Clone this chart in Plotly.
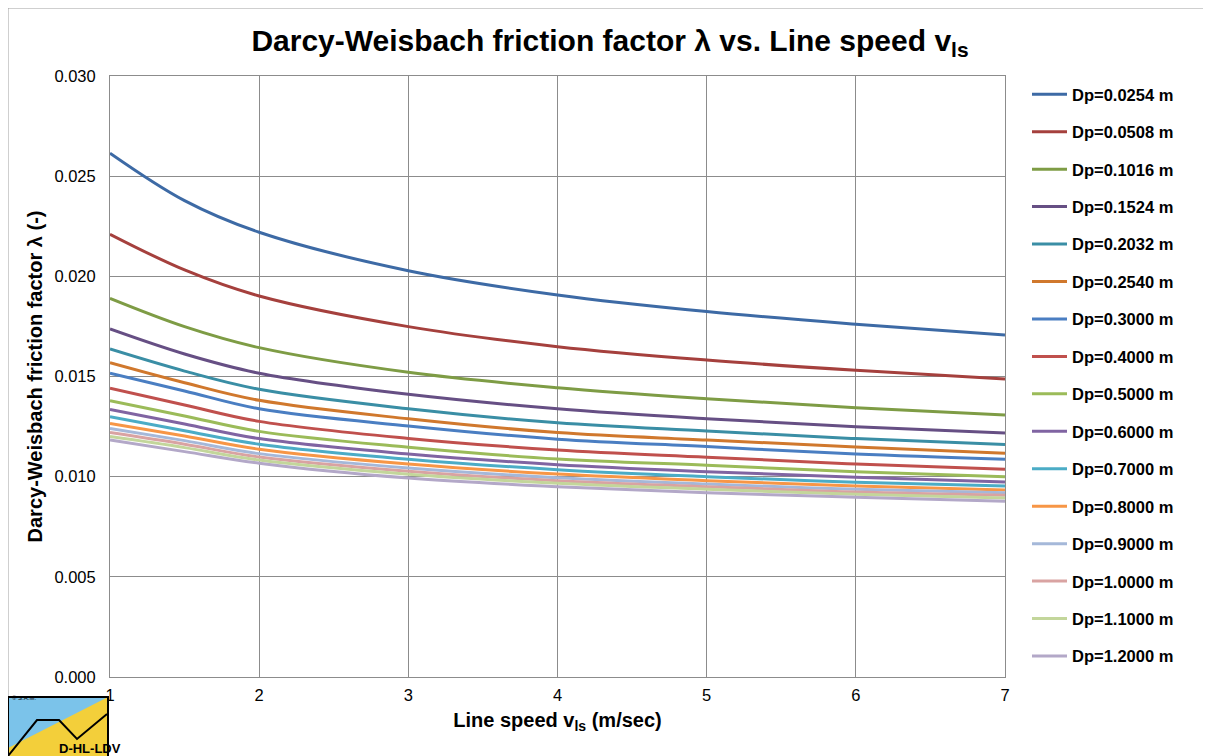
import plotly.graph_objects as go

# line speed v_ls (m/sec)
speed = [1, 1.5, 2, 3, 4, 5, 6, 7]

# pipe diameters (m) -> legend labels
diameters = ["0.0254", "0.0508", "0.1016", "0.1524", "0.2032", "0.2540", "0.3000", "0.4000",
             "0.5000", "0.6000", "0.7000", "0.8000", "0.9000", "1.0000", "1.1000", "1.2000"]

# friction factor lambda per diameter
lam_0254 = [0.02615, 0.02378, 0.02220, 0.02028, 0.01907, 0.01824, 0.01761, 0.01707]
lam_0508 = [0.02210, 0.02032, 0.01902, 0.01749, 0.01649, 0.01582, 0.01531, 0.01488]
lam_1016 = [0.01890, 0.01749, 0.01644, 0.01521, 0.01444, 0.01389, 0.01344, 0.01308]
lam_1524 = [0.01737, 0.01612, 0.01516, 0.01411, 0.01339, 0.01289, 0.01249, 0.01218]
lam_2032 = [0.01637, 0.01527, 0.01436, 0.01339, 0.01269, 0.01228, 0.01190, 0.01160]
lam_2540 = [0.01569, 0.01469, 0.01381, 0.01289, 0.01220, 0.01183, 0.01148, 0.01117]
lam_3000 = [0.01516, 0.01428, 0.01339, 0.01253, 0.01187, 0.01150, 0.01113, 0.01087]
lam_4000 = [0.01441, 0.01358, 0.01276, 0.01191, 0.01133, 0.01097, 0.01063, 0.01037]
lam_5000 = [0.01379, 0.01303, 0.01226, 0.01147, 0.01088, 0.01057, 0.01025, 0.01000]
lam_6000 = [0.01336, 0.01263, 0.01190, 0.01113, 0.01060, 0.01025, 0.00997, 0.00973]
lam_7000 = [0.01299, 0.01229, 0.01162, 0.01087, 0.01035, 0.01000, 0.00972, 0.00953]
lam_8000 = [0.01266, 0.01203, 0.01137, 0.01063, 0.01013, 0.00980, 0.00953, 0.00933]
lam_9000 = [0.01241, 0.01180, 0.01115, 0.01043, 0.00995, 0.00963, 0.00937, 0.00920]
lam_10000 = [0.01220, 0.01162, 0.01098, 0.01027, 0.00980, 0.00950, 0.00923, 0.00907]
lam_11000 = [0.01200, 0.01145, 0.01083, 0.01012, 0.00967, 0.00937, 0.00912, 0.00894]
lam_12000 = [0.01183, 0.01125, 0.01067, 0.00993, 0.00950, 0.00920, 0.00897, 0.00877]

series = [lam_0254, lam_0508, lam_1016, lam_1524, lam_2032, lam_2540, lam_3000, lam_4000,
          lam_5000, lam_6000, lam_7000, lam_8000, lam_9000, lam_10000, lam_11000, lam_12000]

colors = ["#3D6AA5", "#A5403D", "#7E9C45", "#664F84", "#3A8EA5", "#D0782D",
          "#4A7EC2", "#C0504D", "#9BBB59", "#8064A2", "#4BACC6", "#F79646",
          "#A5B8D9", "#D9A3A2", "#C3D69B", "#B3A8C8"]

FONT = "Arial, Liberation Sans, sans-serif"
OFF = 8  # page body margin
W, H = 1211 - OFF, 756 - OFF
# plot area in page pixels: x 110..1005, y 76..677
ML, MR, MT, MB = 110 - OFF, 1211 - 1005, 76 - OFF, 756 - 677
PW, PH = W - ML - MR, H - MT - MB


def px(x, y):
    # page pixel position -> paper coords
    return (x - OFF - ML) / PW, (H - MB - (y - OFF)) / PH


fig = go.Figure()

for d, vals, c in zip(diameters, series, colors):
    fig.add_trace(
        go.Scatter(
            x=speed,
            y=vals,
            mode="lines",
            line=dict(color=c, width=3, shape="spline", smoothing=1.0),
            name=f"Dp={d} m",
            legendgroup=d,
        )
    )

grid = "#8C8C8C"
fig.update_xaxes(
    range=[1, 7],
    dtick=1,
    showgrid=True,
    gridcolor=grid,
    gridwidth=1,
    showline=True,
    linecolor=grid,
    mirror=True,
    zeroline=False,
    ticklabelstandoff=3,
    tickfont=dict(family=FONT, size=16.5, color="black"),
    title=dict(
        text="<b>Line speed v<sub>ls</sub> (m/sec)</b>",
        font=dict(family=FONT, size=20, color="black"),
        standoff=10,
    ),
)
fig.update_yaxes(
    range=[0, 0.030],
    dtick=0.005,
    tickformat=".3f",
    showgrid=True,
    gridcolor=grid,
    gridwidth=1,
    showline=True,
    linecolor=grid,
    mirror=True,
    zeroline=False,
    ticklabelstandoff=10,
    tickfont=dict(family=FONT, size=16.5, color="black"),
    title=dict(
        text="<b>Darcy-Weisbach friction factor λ (-)</b>",
        font=dict(family=FONT, size=20, color="black"),
        standoff=6,
    ),
)

# outer chart border
bx0, by0 = px(OFF, OFF)
bx1, by1 = px(1208, 760)
shapes = [
    dict(type="rect", xref="paper", yref="paper", x0=bx0, y0=by1, x1=bx1, y1=by0,
         line=dict(color="#A0A0A0", width=1), fillcolor="rgba(0,0,0,0)", layer="below"),
]

# logo box bottom-left
lx0, ly0 = px(8, 697)
lx1, ly1 = px(108, 760)
shapes.append(dict(type="rect", xref="paper", yref="paper", x0=lx0, y0=ly1, x1=lx1, y1=ly0,
                   fillcolor="#F3CF3A", line=dict(width=0)))
a = px(8, 697)
b = px(108, 697)
c_ = px(8, 748)
shapes.append(dict(type="path", xref="paper", yref="paper",
                   path=f"M {a[0]},{a[1]} L {b[0]},{b[1]} L {c_[0]},{c_[1]} Z",
                   fillcolor="#7BC3EA", line=dict(width=0)))
pts = [px(8, 756), px(37, 720), px(59, 720), px(77, 739), px(107, 714)]
path = "M " + " L ".join(f"{p[0]},{p[1]}" for p in pts)
shapes.append(dict(type="path", xref="paper", yref="paper", path=path,
                   line=dict(color="black", width=2)))
shapes.append(dict(type="rect", xref="paper", yref="paper", x0=lx0, y0=ly1, x1=lx1, y1=ly0,
                   fillcolor="rgba(0,0,0,0)", line=dict(color="black", width=2)))

tx, ty = px(57, 758)
sx, sy = px(10, 703)
fig.update_layout(
    width=W,
    height=H,
    margin=dict(l=ML, r=MR, t=MT, b=MB),
    paper_bgcolor="white",
    plot_bgcolor="white",
    font=dict(family=FONT, color="black"),
    title=dict(
        text="<b>Darcy-Weisbach friction factor λ vs. Line speed v<sub>ls</sub></b>",
        font=dict(family=FONT, size=30, color="black"),
        x=(610 - OFF) / W,
        xanchor="center",
        y=1 - (40 - OFF) / H,
        yanchor="middle",
        xref="container",
    ),
    legend=dict(
        x=px(1027, 0)[0],
        y=px(0, 77)[1],
        xanchor="left",
        yanchor="top",
        maxheight=740,
        itemwidth=35,
        font=dict(family=FONT, size=16.5, color="black", weight="bold"),
        tracegroupgap=13,
        bgcolor="rgba(0,0,0,0)",
    ),
    shapes=shapes,
    annotations=[
        dict(text="<b>D-HL-LDV</b>", x=tx, y=ty, xref="paper", yref="paper",
             yanchor="bottom", showarrow=False,
             font=dict(family=FONT, size=13, color="black")),
        dict(text="© S.A.M.", x=sx, y=sy, xref="paper", yref="paper", xanchor="left",
             showarrow=False, font=dict(family=FONT, size=6, color="black")),
    ],
)

fig.write_html("out.html")
